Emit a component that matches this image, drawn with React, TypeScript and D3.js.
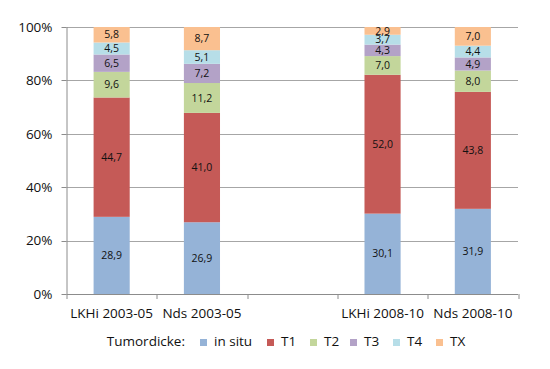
import * as d3 from 'd3';

const categories = ['LKHi 2003-05', 'Nds 2003-05', '', 'LKHi 2008-10', 'Nds 2008-10'];
const seriesNames = ['in situ', 'T1', 'T2', 'T3', 'T4', 'TX'];
const colors = ['#95B3D7', '#C55A57', '#C3D69B', '#B3A2C7', '#B7DEE8', '#FAC090'];
// values per category, in the order of seriesNames (empty slot has none)
const inSitu = [28.9, 26.9, null, 30.1, 31.9];
const t1 = [44.7, 41.0, null, 52.0, 43.8];
const t2 = [9.6, 11.2, null, 7.0, 8.0];
const t3 = [6.5, 7.2, null, 4.3, 4.9];
const t4 = [4.5, 5.1, null, 3.7, 4.4];
const tx = [5.8, 8.7, null, 2.9, 7.0];
const yTicks = [0, 20, 40, 60, 80, 100];

const W = 550;
const H = 369;
const MARGIN = { top: 27, right: 32, bottom: 75, left: 66.5 };
const FONT = '"Open Sans", sans-serif';

const App = () => {
    const boundsWidth = W - MARGIN.left - MARGIN.right;
    const boundsHeight = H - MARGIN.top - MARGIN.bottom;

    const seriesValues = [inSitu, t1, t2, t3, t4, tx];
    const rows = categories.map((c, i) => {
        const row: any = { cat: c, idx: i };
        seriesNames.forEach((s, j) => { row[s] = seriesValues[j][i] ?? 0; });
        return row;
    });
    const stacked = d3.stack<any>().keys(seriesNames).offset(d3.stackOffsetExpand)(rows);

    const xScale = d3.scaleBand<number>()
        .domain(d3.range(categories.length))
        .range([0, boundsWidth])
        .paddingInner(0.6)
        .paddingOuter(0.3);
    const step = xScale.step();
    const yScale = d3.scaleLinear().domain([0, 1]).range([boundsHeight, 0]);

    // legend layout
    const legendItems = seriesNames.map((s, i) => ({ s, c: colors[i] }));
    const legendX = [200, 267, 310, 350, 393, 436];

    return (
        <svg width={W} height={H} style={{ position: 'absolute', left: 0, top: 0, background: '#fff' }}>
            <g transform={`translate(${MARGIN.left},${MARGIN.top})`}>
                {yTicks.map((t) => (
                    <g key={t}>
                        {t > 0 && (
                            <line x1={0} x2={boundsWidth} y1={Math.round(yScale(t / 100)) + 0.5}
                                y2={Math.round(yScale(t / 100)) + 0.5} stroke="#A6A6A6" strokeWidth={1} />
                        )}
                        <line x1={-5} x2={0} y1={Math.round(yScale(t / 100)) + 0.5}
                            y2={Math.round(yScale(t / 100)) + 0.5} stroke="#8C8C8C" />
                        <text x={-14} y={yScale(t / 100)} dy="0.36em" textAnchor="end"
                            fontFamily={FONT} fontSize={13.5} fill="#111">{t}%</text>
                    </g>
                ))}
                {stacked.map((layer, j) => (
                    <g key={layer.key} fill={colors[j]}>
                        {layer.map((d, i) => {
                            if (rows[i].cat === '') return null;
                            const y0 = yScale(d[1]);
                            const y1 = yScale(d[0]);
                            return (
                                <g key={i}>
                                    <rect x={xScale(i)} y={y0} width={xScale.bandwidth()} height={y1 - y0} />
                                    <text x={(xScale(i) as number) + xScale.bandwidth() / 2} y={(y0 + y1) / 2}
                                        dy="0.35em" textAnchor="middle" fontFamily={FONT} fontSize={10.5}
                                        fill="#111">{seriesValues[j][i]!.toFixed(1).replace('.', ',')}</text>
                                </g>
                            );
                        })}
                    </g>
                ))}
                <line x1={0.5} x2={0.5} y1={0} y2={boundsHeight} stroke="#8C8C8C" />
                <line x1={0} x2={boundsWidth} y1={boundsHeight + 0.5} y2={boundsHeight + 0.5} stroke="#8C8C8C" />
                {d3.range(categories.length + 1).map((i) => (
                    <line key={i} x1={Math.round(i * step) + 0.5} x2={Math.round(i * step) + 0.5}
                        y1={boundsHeight} y2={boundsHeight + 5} stroke="#8C8C8C" />
                ))}
                {categories.map((c, i) => (
                    <text key={i} x={(xScale(i) as number) + xScale.bandwidth() / 2} y={boundsHeight + 24}
                        textAnchor="middle" fontFamily={FONT} fontSize={13.5} fill="#111">{c}</text>
                ))}
            </g>
            <g fontFamily={FONT} fontSize={13.5} fill="#111">
                <text x={185} y={346} textAnchor="end">Tumordicke:</text>
                {legendItems.map((d, i) => (
                    <g key={d.s} transform={`translate(${legendX[i]},0)`}>
                        <rect x={0} y={339} width={7} height={7} fill={d.c} />
                        <text x={14} y={346}>{d.s}</text>
                    </g>
                ))}
            </g>
        </svg>
    );
};

export default App;
